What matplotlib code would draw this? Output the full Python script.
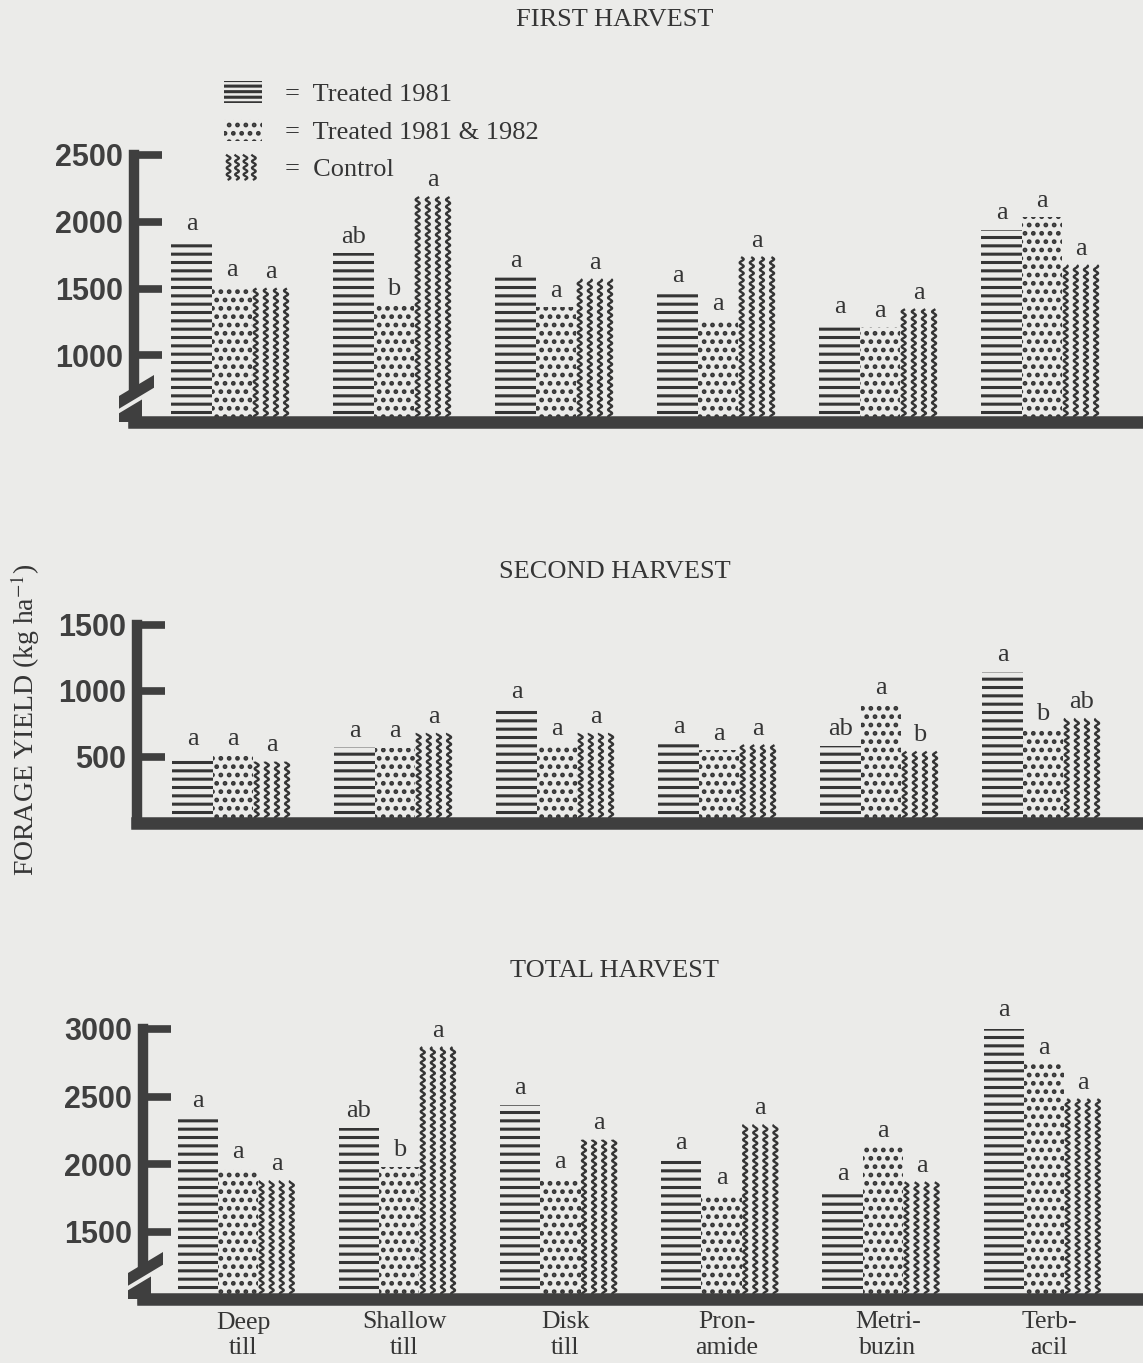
import numpy as np
import matplotlib
matplotlib.use("Agg")
import matplotlib.pyplot as plt
from matplotlib.patches import Patch, Polygon
from matplotlib.lines import Line2D
from matplotlib.legend_handler import HandlerBase
from matplotlib.transforms import ScaledTranslation

# ---------------- data ----------------
treatments = ["Deep\ntill", "Shallow\ntill", "Disk\ntill", "Pron-\namide", "Metri-\nbuzin", "Terb-\nacil"]
series_labels = ["Treated 1981", "Treated 1981 & 1982", "Control"]

first_t81 = [1860, 1765, 1585, 1470, 1240, 1940]
first_t8182 = [1515, 1375, 1360, 1262, 1210, 2035]
first_ctrl = [1500, 2185, 1570, 1735, 1345, 1675]
first_let_t81 = ["a", "ab", "a", "a", "a", "a"]
first_let_t8182 = ["a", "b", "a", "a", "a", "a"]
first_let_ctrl = ["a", "a", "a", "a", "a", "a"]

second_t81 = [510, 575, 865, 605, 585, 1145]
second_t8182 = [510, 570, 585, 550, 900, 700]
second_ctrl = [465, 680, 680, 590, 540, 790]
second_let_t81 = ["a", "a", "a", "a", "ab", "a"]
second_let_t8182 = ["a", "a", "a", "a", "a", "b"]
second_let_ctrl = ["a", "a", "a", "a", "b", "ab"]

total_t81 = [2345, 2270, 2440, 2030, 1805, 3015]
total_t8182 = [1965, 1980, 1895, 1770, 2125, 2740]
total_ctrl = [1875, 2865, 2180, 2290, 1865, 2480]
total_let_t81 = ["a", "ab", "a", "a", "a", "a"]
total_let_t8182 = ["a", "b", "a", "a", "a", "a"]
total_let_ctrl = ["a", "a", "a", "a", "a", "a"]

first_ticks = [1000, 1500, 2000, 2500]
second_ticks = [500, 1000, 1500]
total_ticks = [1500, 2000, 2500, 3000]

# ---------------- style ----------------
W, H = 1143, 1363
BG = "#ebebe9"
INK = "#353535"
AXC = "#3f3f3f"

plt.rcParams["font.family"] = ["Liberation Serif", "DejaVu Serif"]
plt.rcParams["mathtext.fontset"] = "stix"
plt.rcParams["hatch.linewidth"] = 2.2
plt.rcParams["hatch.color"] = INK

fig = plt.figure(figsize=(W / 100, H / 100), dpi=100, facecolor=BG)

BW = 0.25
offsets = [-0.25, 0.0, 0.24]
hatches = ["--", "..", None]


def fx(x):
    return x / W


def fy(y):
    return 1 - y / H


def wavy_fill(ax, bars, n=4, amp=2.0, wavelength=7.0):
    xl, yl = ax.get_xlim(), ax.get_ylim()
    ux = (xl[1] - xl[0]) / ax.bbox.width
    uy = (yl[1] - yl[0]) / ax.bbox.height
    for b in bars:
        x0, w, y0, h = b.get_x(), b.get_width(), b.get_y(), b.get_height()
        wpx, hpx = w / ux, h / uy
        t = np.linspace(0, hpx, int(hpx * 3) + 2)
        for j in range(n):
            cpx = (j + 0.5) * wpx / n
            xs = x0 + (cpx + amp * np.sin(2 * np.pi * t / wavelength)) * ux
            ys = y0 + t * uy
            ax.plot(xs, ys, color=INK, lw=1.7, zorder=2, solid_capstyle="butt")


def draw_break(xc, yb):
    # axis break: thick slanted block split by a thin diagonal gap
    A = (xc - 15, yb - 11)
    B = (xc + 20, yb - 32)
    upper = [A, B, (B[0], B[1] - 15), (A[0], A[1] - 15)]
    lower = [A, (xc + 8, yb - 25), (xc + 8, yb), (A[0], yb)]
    for poly in (upper, lower):
        fig.add_artist(Polygon([(fx(px), fy(py)) for px, py in poly], closed=True,
                               transform=fig.transFigure, facecolor=AXC,
                               edgecolor="none", zorder=10))
    fig.add_artist(Line2D([fx(A[0] - 2), fx(B[0] + 2)],
                          [fy(A[1] + 1.2), fy(B[1] - 1.2)],
                          transform=fig.transFigure, color=BG, lw=2.8,
                          solid_capstyle="butt", zorder=11))


def panel(left, top, bottom, c0, sp, ylim, ticks, vals, lets, title, title_y, brk, xlabels):
    ax = fig.add_axes([fx(left), fy(bottom), (W - left) / W, (bottom - top) / H])
    ax.set_facecolor("none")
    x = np.arange(len(treatments))
    base = ylim[0]
    ax.set_xlim((left - c0) / sp, (W - c0) / sp)
    ax.set_ylim(*ylim)
    for k in range(3):
        v = np.array(vals[k], dtype=float)
        bars = ax.bar(x + offsets[k], v - base, bottom=base, width=BW,
                      facecolor="none", edgecolor=INK, linewidth=0,
                      hatch=hatches[k], zorder=2)
        if k == 2:
            wavy_fill(ax, bars)
        for b, lab in zip(bars, lets[k]):
            ax.annotate(lab, (b.get_x() + b.get_width() / 2, b.get_y() + b.get_height()),
                        xytext=(0, 4), textcoords="offset points", ha="center",
                        va="bottom", fontsize=19, color=INK, annotation_clip=False)
    for s in ("top", "right"):
        ax.spines[s].set_visible(False)
    ax.spines["left"].set_linewidth(7.5)
    ax.spines["bottom"].set_linewidth(9)
    for s in ("left", "bottom"):
        ax.spines[s].set_color(AXC)
        ax.spines[s].set_capstyle("projecting")
        ax.spines[s].set_zorder(5)
    ax.set_yticks(ticks)
    ax.set_yticklabels([str(t) for t in ticks], family=["Liberation Sans", "DejaVu Sans"],
                       fontweight="bold", fontsize=22, color=AXC)
    ax.tick_params(axis="y", direction="in", length=20, width=5.5, color=AXC, pad=8)
    if xlabels:
        ax.set_xticks(x)
        ax.set_xticklabels(treatments, fontsize=18.5, color=INK, linespacing=1.22)
        ax.tick_params(axis="x", length=0, pad=9)
        for lab in ax.get_xticklabels():
            lab.set_transform(lab.get_transform() + ScaledTranslation(0.05, 0, fig.dpi_scale_trans))
    else:
        ax.set_xticks([])
    fig.text(0.538, fy(title_y), title, ha="center", va="center", fontsize=19, color=INK)
    if brk:
        draw_break(left, bottom)
    return ax


ax1 = panel(134, 155, 422, 232, 162.0, (500, 2500), first_ticks,
            (first_t81, first_t8182, first_ctrl),
            (first_let_t81, first_let_t8182, first_let_ctrl),
            "FIRST HARVEST", 20, True, False)
ax2 = panel(137, 625, 823, 233, 162.0, (0, 1500), second_ticks,
            (second_t81, second_t8182, second_ctrl),
            (second_let_t81, second_let_t8182, second_let_ctrl),
            "SECOND HARVEST", 572, False, False)
ax3 = panel(143, 1029, 1299, 238, 161.2, (1000, 3000), total_ticks,
            (total_t81, total_t8182, total_ctrl),
            (total_let_t81, total_let_t8182, total_let_ctrl),
            "TOTAL HARVEST", 971, True, True)


class WavyHandler(HandlerBase):
    def create_artists(self, legend, orig_handle, xdescent, ydescent, width, height,
                       fontsize, trans):
        arts = []
        t = np.linspace(0, height * 1.1, 60)
        for j in range(4):
            cx = -xdescent + width * (0.12 + 0.22 * j)
            xs = cx + width * 0.05 * np.sin(2 * np.pi * t / (height * 0.3))
            ys = -ydescent - height * 0.05 + t
            arts.append(Line2D(xs, ys, transform=trans, color=INK, lw=1.6))
        return arts


handles = [Patch(facecolor="none", edgecolor=INK, linewidth=0, hatch="---"),
           Patch(facecolor="none", edgecolor=INK, linewidth=0, hatch=".."),
           Line2D([], [])]
leg = ax1.legend(handles, ["=  " + s for s in series_labels],
                 handler_map={Line2D: WavyHandler()},
                 loc="upper left", bbox_to_anchor=(fx(224), fy(81)),
                 bbox_transform=fig.transFigure, frameon=False, fontsize=19,
                 handlelength=1.45, handleheight=0.9, labelspacing=0.48,
                 handletextpad=0.85, borderpad=0, borderaxespad=0)
for txt in leg.get_texts():
    txt.set_color(INK)

fig.text(fx(25), fy(720), "FORAGE YIELD (kg ha$^{-1}$)", rotation=90,
         ha="center", va="center", fontsize=20, color=INK)

fig.savefig("out.png", dpi=100, facecolor=BG)
